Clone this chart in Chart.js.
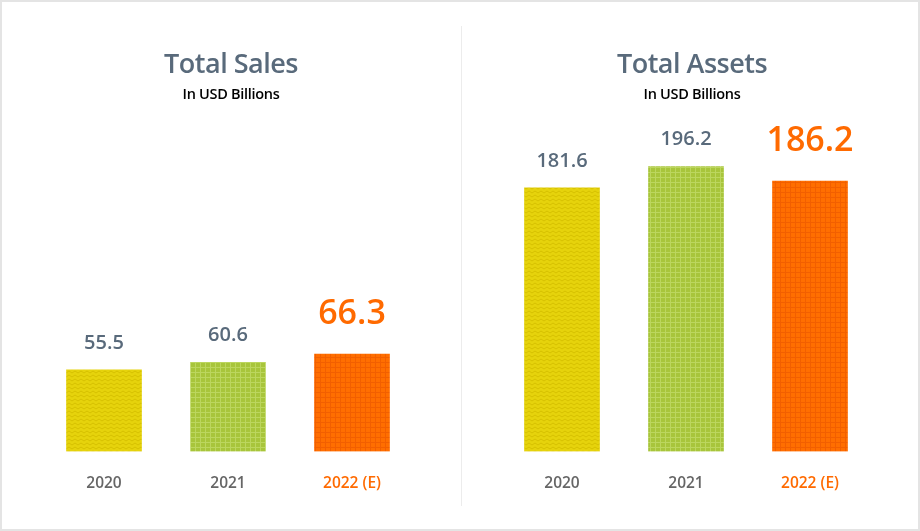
<!DOCTYPE html>
<html>
<head>
<meta charset="utf-8">
<script src="https://cdn.jsdelivr.net/npm/chart.js@4"></script>
<style>
  html, body { margin: 0; padding: 0; background: #fff; }
  #wrap {
    position: relative; width: 920px; height: 531px; box-sizing: border-box;
    border: 2px solid #e4e4e4; background: #fff; overflow: hidden;
    font-family: "Open Sans", sans-serif;
  }
  .panel { position: absolute; top: 0; width: 460px; height: 531px; }
  .panel canvas { position: absolute; left: 0; top: 0; }
  .title {
    position: absolute; width: 100%; text-align: center; top: 42px;
    font-size: 27px; font-weight: 600; color: #596a7b; letter-spacing: -0.5px;
  }
  .sub {
    position: absolute; width: 100%; text-align: center; top: 82px;
    font-size: 14.5px; font-weight: 600; color: #000; letter-spacing: -0.3px;
  }
  #divider {
    position: absolute; left: 459px; top: 24px; width: 1px; height: 480px; background: #ececec;
  }
</style>
</head>
<body>
<div id="wrap">
  <div class="panel" style="left:-2px">
    <canvas id="salesChart" width="460" height="531"></canvas>
    <div class="title" style="left:1px">Total Sales</div>
    <div class="sub" style="left:1px">In USD Billions</div>
  </div>
  <div id="divider"></div>
  <div class="panel" style="left:458px">
    <canvas id="assetsChart" width="460" height="531"></canvas>
    <div class="title" style="left:2px">Total Assets</div>
    <div class="sub" style="left:2px">In USD Billions</div>
  </div>
</div>
<script>
const years = ["2020", "2021", "2022 (E)"];
const sales = [55.5, 60.6, 66.3];
const assets = [181.6, 196.2, 186.2];
const tickColors = ["#666666", "#666666", "#ff6a00"];

// textures for the bars
const makeTile = (w, h, draw) => {
  const c = document.createElement("canvas");
  c.width = w;
  c.height = h;
  draw(c.getContext("2d"));
  return c.getContext("2d").createPattern(c, "repeat");
};

const zigzag = makeTile(6, 4, (g) => {
  g.fillStyle = "#e6d30c";
  g.fillRect(0, 0, 6, 4);
  g.strokeStyle = "#d6c000";
  g.lineWidth = 1;
  g.beginPath();
  g.moveTo(0, 3);
  g.lineTo(3, 1);
  g.lineTo(6, 3);
  g.stroke();
});

const grid = (base, line) => makeTile(5, 5, (g) => {
  g.fillStyle = base;
  g.fillRect(0, 0, 5, 5);
  g.fillStyle = line;
  g.fillRect(0, 0, 5, 1);
  g.fillRect(0, 0, 1, 5);
});

const barColors = [zigzag, grid("#a8c53b", "#bcd65e"), grid("#ff6e00", "#f25f00")];

const valueLabels = {
  id: "valueLabels",
  afterDatasetsDraw(chart) {
    const ctx = chart.ctx;
    const meta = chart.getDatasetMeta(0);
    const data = chart.data.datasets[0].data;
    ctx.save();
    ctx.textAlign = "center";
    ctx.textBaseline = "middle";
    meta.data.forEach((bar, i) => {
      const last = i === data.length - 1;
      ctx.font = last ? "600 34px 'Open Sans'" : "600 20px 'Open Sans'";
      ctx.fillStyle = last ? "#ff6a00" : "#596a7b";
      ctx.fillText(String(data[i].toFixed(1)), bar.x, bar.y - (last ? 40 : 27));
    });
    ctx.restore();
  },
};

const drawBars = (canvas, values, yMax, padLeft, padRight) => {
  const config = {
    type: "bar",
    data: {
      labels: years,
      datasets: [
        {
          data: values,
          backgroundColor: barColors,
          borderWidth: 0,
          barThickness: 75,
          categoryPercentage: 1,
        },
      ],
    },
    options: {
      responsive: false,
      animation: false,
      layout: { padding: { top: 140, left: padLeft, right: padRight, bottom: 25 } },
      plugins: { legend: { display: false }, tooltip: { enabled: false } },
      scales: {
        y: { display: false, min: 0, max: yMax },
        x: {
          grid: { display: false },
          border: { display: false },
          ticks: {
            padding: 15,
            color: (c) => tickColors[c.index],
            font: { family: "'Open Sans'", size: 15.5, weight: "600" },
          },
        },
      },
    },
    plugins: [valueLabels],
  };
  return new Chart(canvas, config);
};

drawBars(document.getElementById("salesChart"), sales, 210.6, 42, 46);
drawBars(document.getElementById("assetsChart"), assets, 213.2, 40, 48);
</script>
</body>
</html>
